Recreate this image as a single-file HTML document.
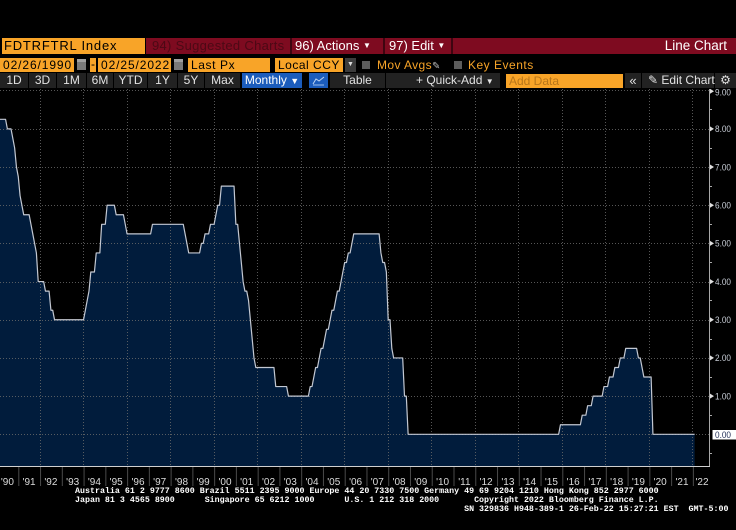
<!DOCTYPE html>
<html><head><meta charset="utf-8"><style>
html,body{margin:0;padding:0;background:#000;}
body{width:736px;height:530px;overflow:hidden;position:relative;font-family:"Liberation Sans",sans-serif;}
.a{position:absolute;box-sizing:border-box;white-space:nowrap;}
.or{background:#f8a428;color:#000;}
.r3{background:#222;color:#e2e2e2;font-size:12px;line-height:15px;height:15px;top:73px;text-align:center;}
.ft{position:absolute;left:75px;font-family:"Liberation Mono",monospace;font-size:8.32px;line-height:9px;color:#fff;white-space:pre;font-weight:600;}
</style></head><body>

<svg class="a" style="left:0;top:0" width="736" height="530" viewBox="0 0 736 530">
  <g transform="translate(-3.5,434.3) scale(1.81333,-38.18)">
    <path fill="#011c3c" d="M0,8.25 L5,8.25 L6,8 L8,8 L9,7.75 L10,7.5 L11,7 L12,6.75 L13,6.25 L14,6 L15,5.75 L18,5.75 L19,5.5 L20,5.25 L21,5 L22,4.75 L23,4 L26,4 L27,3.75 L29,3.75 L30,3.25 L31,3.25 L32,3 L48,3 L49,3.25 L50,3.5 L51,3.75 L52,4.25 L54,4.25 L55,4.75 L57,4.75 L58,5.5 L60,5.5 L61,6 L65,6 L66,5.75 L70,5.75 L71,5.5 L72,5.25 L85,5.25 L86,5.5 L103,5.5 L104,5.25 L105,5 L106,4.75 L112,4.75 L113,5 L114,5 L115,5.25 L117,5.25 L118,5.5 L120,5.5 L121,5.75 L122,6 L123,6 L124,6.5 L131,6.5 L132,5.5 L133,5.5 L134,5 L135,4.5 L136,4 L137,3.75 L138,3.75 L139,3.5 L140,3 L141,2.5 L142,2 L143,1.75 L153,1.75 L154,1.25 L160,1.25 L161,1 L172,1 L173,1.25 L174,1.25 L175,1.5 L176,1.75 L177,1.75 L178,2 L179,2.25 L180,2.25 L181,2.5 L182,2.75 L183,2.75 L184,3 L185,3.25 L186,3.25 L187,3.5 L188,3.75 L189,3.75 L190,4 L191,4.25 L192,4.5 L193,4.5 L194,4.75 L195,4.75 L196,5 L197,5.25 L211,5.25 L212,4.75 L213,4.5 L214,4.5 L215,4.25 L216,3 L217,3 L218,2.25 L219,2 L224,2 L225,1 L226,1 L227,0 L310,0 L311,0.25 L322,0.25 L323,0.5 L325,0.5 L326,0.75 L328,0.75 L329,1 L334,1 L335,1.25 L337,1.25 L338,1.5 L340,1.5 L341,1.75 L343,1.75 L344,2 L346,2 L347,2.25 L353,2.25 L354,2 L355,2 L356,1.75 L357,1.5 L361,1.5 L362,0 L385,0 L385,-0.83 L0,-0.83 Z"/>
  </g>
  <g stroke="#6c6c6c" stroke-width="1" stroke-dasharray="1,2" opacity="0.8">
    <line x1="0" x2="709" y1="434.5" y2="434.5"/>
    <line x1="0" x2="709" y1="396.5" y2="396.5"/>
    <line x1="0" x2="709" y1="358.5" y2="358.5"/>
    <line x1="0" x2="709" y1="320.5" y2="320.5"/>
    <line x1="0" x2="709" y1="282.5" y2="282.5"/>
    <line x1="0" x2="709" y1="243.5" y2="243.5"/>
    <line x1="0" x2="709" y1="205.5" y2="205.5"/>
    <line x1="0" x2="709" y1="167.5" y2="167.5"/>
    <line x1="0" x2="709" y1="129.5" y2="129.5"/>
    <line x1="0" x2="709" y1="90.5" y2="90.5"/>
    <line y1="89" y2="466" x1="40.5" x2="40.5"/>
    <line y1="89" y2="466" x1="83.5" x2="83.5"/>
    <line y1="89" y2="466" x1="127.5" x2="127.5"/>
    <line y1="89" y2="466" x1="170.5" x2="170.5"/>
    <line y1="89" y2="466" x1="214.5" x2="214.5"/>
    <line y1="89" y2="466" x1="257.5" x2="257.5"/>
    <line y1="89" y2="466" x1="301.5" x2="301.5"/>
    <line y1="89" y2="466" x1="344.5" x2="344.5"/>
    <line y1="89" y2="466" x1="388.5" x2="388.5"/>
    <line y1="89" y2="466" x1="431.5" x2="431.5"/>
    <line y1="89" y2="466" x1="475.5" x2="475.5"/>
    <line y1="89" y2="466" x1="518.5" x2="518.5"/>
    <line y1="89" y2="466" x1="562.5" x2="562.5"/>
    <line y1="89" y2="466" x1="605.5" x2="605.5"/>
    <line y1="89" y2="466" x1="649.5" x2="649.5"/>
    <line y1="89" y2="466" x1="692.5" x2="692.5"/>
  </g>
  <g transform="translate(-3.5,434.3) scale(1.81333,-38.18)">
    <path fill="none" stroke="#c3c8d2" stroke-width="1.2" vector-effect="non-scaling-stroke" stroke-linejoin="round" d="M0,8.25 L5,8.25 L6,8 L8,8 L9,7.75 L10,7.5 L11,7 L12,6.75 L13,6.25 L14,6 L15,5.75 L18,5.75 L19,5.5 L20,5.25 L21,5 L22,4.75 L23,4 L26,4 L27,3.75 L29,3.75 L30,3.25 L31,3.25 L32,3 L48,3 L49,3.25 L50,3.5 L51,3.75 L52,4.25 L54,4.25 L55,4.75 L57,4.75 L58,5.5 L60,5.5 L61,6 L65,6 L66,5.75 L70,5.75 L71,5.5 L72,5.25 L85,5.25 L86,5.5 L103,5.5 L104,5.25 L105,5 L106,4.75 L112,4.75 L113,5 L114,5 L115,5.25 L117,5.25 L118,5.5 L120,5.5 L121,5.75 L122,6 L123,6 L124,6.5 L131,6.5 L132,5.5 L133,5.5 L134,5 L135,4.5 L136,4 L137,3.75 L138,3.75 L139,3.5 L140,3 L141,2.5 L142,2 L143,1.75 L153,1.75 L154,1.25 L160,1.25 L161,1 L172,1 L173,1.25 L174,1.25 L175,1.5 L176,1.75 L177,1.75 L178,2 L179,2.25 L180,2.25 L181,2.5 L182,2.75 L183,2.75 L184,3 L185,3.25 L186,3.25 L187,3.5 L188,3.75 L189,3.75 L190,4 L191,4.25 L192,4.5 L193,4.5 L194,4.75 L195,4.75 L196,5 L197,5.25 L211,5.25 L212,4.75 L213,4.5 L214,4.5 L215,4.25 L216,3 L217,3 L218,2.25 L219,2 L224,2 L225,1 L226,1 L227,0 L310,0 L311,0.25 L322,0.25 L323,0.5 L325,0.5 L326,0.75 L328,0.75 L329,1 L334,1 L335,1.25 L337,1.25 L338,1.5 L340,1.5 L341,1.75 L343,1.75 L344,2 L346,2 L347,2.25 L353,2.25 L354,2 L355,2 L356,1.75 L357,1.5 L361,1.5 L362,0 L385,0"/>
  </g>
  <line x1="709.5" x2="709.5" y1="89" y2="466" stroke="#a8a8a8" stroke-width="1"/>
  <line x1="0" x2="710" y1="466.5" y2="466.5" stroke="#d0d0d0" stroke-width="1"/>
  <line x1="18.3" x2="712" y1="476.5" y2="476.5" stroke="#4a4a4a" stroke-width="19" stroke-dasharray="1 20.76"/>
  <g stroke="#a8a8a8" stroke-width="1">
    <line x1="709" x2="712" y1="453.5" y2="453.5"/>
    <line x1="709" x2="712" y1="415.5" y2="415.5"/>
    <line x1="709" x2="712" y1="377.5" y2="377.5"/>
    <line x1="709" x2="712" y1="339.5" y2="339.5"/>
    <line x1="709" x2="712" y1="300.5" y2="300.5"/>
    <line x1="709" x2="712" y1="262.5" y2="262.5"/>
    <line x1="709" x2="712" y1="224.5" y2="224.5"/>
    <line x1="709" x2="712" y1="186.5" y2="186.5"/>
    <line x1="709" x2="712" y1="148.5" y2="148.5"/>
    <line x1="709" x2="712" y1="109.5" y2="109.5"/>
  </g>
  <g fill="#e0e0e0">
    <polygon points="710,393.6 714,396.1 710,398.6"/>
    <polygon points="710,355.4 714,357.9 710,360.4"/>
    <polygon points="710,317.3 714,319.8 710,322.3"/>
    <polygon points="710,279.1 714,281.6 710,284.1"/>
    <polygon points="710,240.9 714,243.4 710,245.9"/>
    <polygon points="710,202.7 714,205.2 710,207.7"/>
    <polygon points="710,164.5 714,167.0 710,169.5"/>
    <polygon points="710,126.4 714,128.9 710,131.4"/>
    <polygon points="710,88.7 714,91.2 710,93.7"/>
  </g>
  <g fill="#c8cdd6" font-family="Liberation Sans, sans-serif" font-size="9.5">
    <text x="715" y="399.4" textLength="16" lengthAdjust="spacingAndGlyphs">1.00</text>
    <text x="715" y="361.2" textLength="16" lengthAdjust="spacingAndGlyphs">2.00</text>
    <text x="715" y="323.1" textLength="16" lengthAdjust="spacingAndGlyphs">3.00</text>
    <text x="715" y="284.9" textLength="16" lengthAdjust="spacingAndGlyphs">4.00</text>
    <text x="715" y="246.7" textLength="16" lengthAdjust="spacingAndGlyphs">5.00</text>
    <text x="715" y="208.5" textLength="16" lengthAdjust="spacingAndGlyphs">6.00</text>
    <text x="715" y="170.3" textLength="16" lengthAdjust="spacingAndGlyphs">7.00</text>
    <text x="715" y="132.2" textLength="16" lengthAdjust="spacingAndGlyphs">8.00</text>
    <text x="715" y="95.5" textLength="16" lengthAdjust="spacingAndGlyphs">9.00</text>
  </g>
  <rect x="712.5" y="430" width="24" height="9.5" fill="#ffffff"/>
  <text x="715" y="438" fill="#1f2c55" font-family="Liberation Sans, sans-serif" font-size="9.5" textLength="16" lengthAdjust="spacingAndGlyphs">0.00</text>
  <g fill="#dcdcdc" font-family="Liberation Sans, sans-serif" font-size="10" text-anchor="middle">
    <text x="7.4" y="485">'90</text><text x="29.1" y="485">'91</text><text x="50.9" y="485">'92</text><text x="72.7" y="485">'93</text>
    <text x="94.4" y="485">'94</text><text x="116.2" y="485">'95</text><text x="138" y="485">'96</text><text x="159.7" y="485">'97</text>
    <text x="181.5" y="485">'98</text><text x="203.2" y="485">'99</text><text x="225" y="485">'00</text><text x="246.7" y="485">'01</text>
    <text x="268.5" y="485">'02</text><text x="290.3" y="485">'03</text><text x="312" y="485">'04</text><text x="333.8" y="485">'05</text>
    <text x="355.6" y="485">'06</text><text x="377.3" y="485">'07</text><text x="399.1" y="485">'08</text><text x="420.8" y="485">'09</text>
    <text x="442.6" y="485">'10</text><text x="464.4" y="485">'11</text><text x="486.1" y="485">'12</text><text x="507.9" y="485">'13</text>
    <text x="529.6" y="485">'14</text><text x="551.4" y="485">'15</text><text x="573.2" y="485">'16</text><text x="594.9" y="485">'17</text>
    <text x="616.7" y="485">'18</text><text x="638.4" y="485">'19</text><text x="660.2" y="485">'20</text><text x="682" y="485">'21</text>
    <text x="702" y="485">'22</text>
  </g>
</svg>

<div class="a" style="left:0;top:0;width:736px;height:37px;background:#000"></div>
<div class="a or" style="left:2px;top:38px;width:143px;height:16px;font-size:13px;line-height:16px;padding-left:2px;letter-spacing:0.8px;">FDTRFTRL Index</div>
<div class="a" style="left:146px;top:38px;width:590px;height:16px;background:#7e0b20;"></div>
<div class="a" style="left:148px;top:38px;width:142px;height:16px;font-size:13px;line-height:16px;color:#4c0915;padding-left:4px;letter-spacing:0.3px;">94) Suggested Charts</div>
<div class="a" style="left:290px;top:38px;width:2px;height:16px;background:#3e0510;"></div>
<div class="a" style="left:295px;top:38px;width:88px;height:16px;font-size:13px;line-height:16px;color:#fff;">96) Actions <span style="font-size:8px;vertical-align:2px">&#9660;</span></div>
<div class="a" style="left:383px;top:38px;width:2px;height:16px;background:#3e0510;"></div>
<div class="a" style="left:389px;top:38px;width:62px;height:16px;font-size:13px;line-height:16px;color:#fff;">97) Edit <span style="font-size:8px;vertical-align:2px">&#9660;</span></div>
<div class="a" style="left:451px;top:38px;width:2px;height:16px;background:#3e0510;"></div>
<div class="a" style="left:650px;top:38px;width:77px;height:16px;font-size:13.5px;line-height:16px;color:#fff;text-align:right;">Line Chart</div>

<div class="a" style="left:0;top:55px;width:736px;height:18px;background:#000"></div>
<div class="a or" style="left:0;top:58px;width:74px;height:14px;font-size:12px;line-height:14px;padding-left:3px;letter-spacing:0.9px;">02/26/1990</div>
<div class="a" style="left:77px;top:59px;width:9px;height:11px;background:#7a7a7a;border-top:3px solid #a0a0a0;"></div>
<div class="a or" style="left:90px;top:58px;width:6px;height:14px;font-size:12px;line-height:13px;text-align:center;">-</div>
<div class="a or" style="left:98px;top:58px;width:73px;height:14px;font-size:12px;line-height:14px;padding-left:3px;letter-spacing:0.9px;">02/25/2022</div>
<div class="a" style="left:174px;top:59px;width:9px;height:11px;background:#7a7a7a;border-top:3px solid #a0a0a0;"></div>
<div class="a or" style="left:188px;top:58px;width:82px;height:14px;font-size:12px;line-height:14px;padding-left:3px;letter-spacing:0.6px;">Last Px</div>
<div class="a or" style="left:275px;top:58px;width:68px;height:14px;font-size:12px;line-height:14px;padding-left:3px;letter-spacing:0.5px;">Local CCY</div>
<div class="a" style="left:345px;top:58px;width:11px;height:14px;background:#3c3c3c;color:#ddd;font-size:7px;line-height:14px;text-align:center;">&#9660;</div>
<div class="a" style="left:362px;top:61px;width:8px;height:8px;background:#5c5c5c;"></div>
<div class="a" style="left:377px;top:58px;height:14px;font-size:12px;line-height:14px;color:#f8a428;letter-spacing:0.4px;">Mov Avgs<span style="color:#bbb;font-size:10px;">&#9998;</span></div>
<div class="a" style="left:454px;top:61px;width:8px;height:8px;background:#5c5c5c;"></div>
<div class="a" style="left:468px;top:58px;height:14px;font-size:12px;line-height:14px;color:#f8a428;letter-spacing:0.5px;">Key Events</div>

<div class="a" style="left:0;top:72px;width:736px;height:17px;background:#000"></div>
<div class="a r3" style="left:0;width:28px;">1D</div>
<div class="a r3" style="left:29px;width:27px;">3D</div>
<div class="a r3" style="left:57px;width:29px;">1M</div>
<div class="a r3" style="left:87px;width:26px;">6M</div>
<div class="a r3" style="left:114px;width:33px;">YTD</div>
<div class="a r3" style="left:148px;width:29px;">1Y</div>
<div class="a r3" style="left:178px;width:26px;">5Y</div>
<div class="a r3" style="left:205px;width:35px;">Max</div>
<div class="a r3" style="left:242px;width:60px;background:#1b5cbc;color:#fff;">Monthly <span style="font-size:9px">&#9660;</span></div>
<div class="a r3" style="left:303px;width:5px;background:#000;"></div>
<div class="a r3" style="left:309px;width:19px;background:#1b5cbc;">
  <svg width="19" height="15" viewBox="0 0 19 15" style="position:absolute;left:0;top:0"><polyline points="4,11 7,6 10,8 15,4" fill="none" stroke="#bcd4f4" stroke-width="1"/><line x1="4" y1="12" x2="15" y2="12" stroke="#bcd4f4" stroke-width="0.8"/></svg>
</div>
<div class="a r3" style="left:330px;width:55px;">Table</div>
<div class="a r3" style="left:386px;width:114px;text-align:left;padding-left:30px;">+ Quick-Add <span style="font-size:8px">&#9660;</span></div>
<div class="a or" style="left:506px;top:74px;width:117px;height:14px;font-size:12px;line-height:14px;padding-left:3px;color:#b8761a;">Add Data</div>
<div class="a r3" style="left:625px;width:16px;font-size:13px;">&#171;</div>
<div class="a r3" style="left:642px;width:72px;text-align:left;padding-left:6px;">&#9998; Edit Chart</div>
<div class="a r3" style="left:715px;width:21px;font-size:12px;">&#9881;</div>

<div class="ft" style="top:487px;">Australia 61 2 9777 8600 Brazil 5511 2395 9000 Europe 44 20 7330 7500 Germany 49 69 9204 1210 Hong Kong 852 2977 6000</div>
<div class="ft" style="top:496px;">Japan 81 3 4565 8900      Singapore 65 6212 1000      U.S. 1 212 318 2000       Copyright 2022 Bloomberg Finance L.P.</div>
<div class="ft" style="top:505px;">                                                                              SN 329836 H948-389-1 26-Feb-22 15:27:21 EST  GMT-5:00</div>
</body></html>
